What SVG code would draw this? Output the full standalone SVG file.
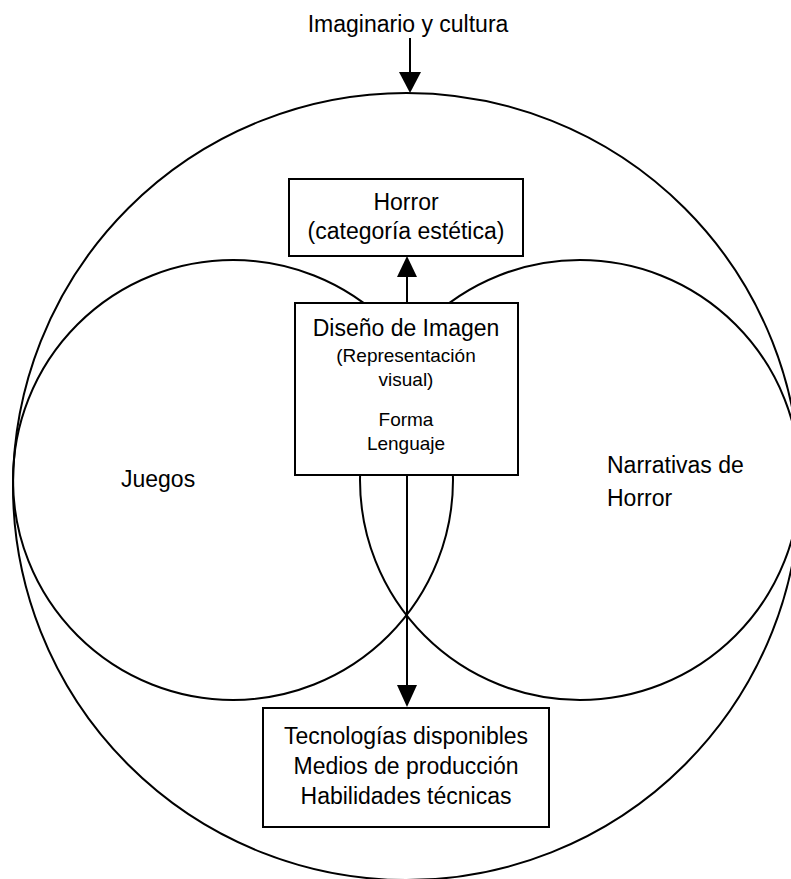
<svg xmlns="http://www.w3.org/2000/svg" width="791" height="879" viewBox="0 0 791 879">
  <style>
    .ring { fill: none; stroke: #000; stroke-width: 2; }
    .box { fill: #fff; stroke: #000; stroke-width: 2; }
    .wire { stroke: #000; stroke-width: 2; fill: none; }
    .head { fill: #000; stroke: none; }
    text { font-family: "Liberation Sans", Arial, sans-serif; fill: #000; text-anchor: middle; }
    .main { font-size: 23px; }
    .sub { font-size: 19px; }
    .side { text-anchor: start; }
  </style>
  <rect width="791" height="879" fill="#fff"/>

  <!-- outer field: imaginary and culture -->
  <g id="imaginario">
    <circle class="ring" cx="406.5" cy="486.5" r="393.5"/>
    <text class="main" x="408" y="32">Imaginario y cultura</text>
  </g>

  <!-- overlapping domains -->
  <g id="juegos">
    <circle class="ring" cx="233" cy="480" r="220"/>
    <text class="main side" x="121" y="487">Juegos</text>
  </g>
  <g id="narrativas">
    <circle class="ring" cx="580" cy="480" r="220"/>
    <text class="main side" x="607" y="473">Narrativas de</text>
    <text class="main side" x="607" y="506">Horror</text>
  </g>

  <!-- connectors -->
  <g id="connectors">
    <line class="wire" x1="410" y1="38" x2="410" y2="74"/>
    <polygon class="head" points="399,72 421,72 410,93"/>
    <line class="wire" x1="407" y1="303" x2="407" y2="275"/>
    <polygon class="head" points="397,277 417,277 407,256"/>
    <line class="wire" x1="407" y1="475" x2="407" y2="688"/>
    <polygon class="head" points="397,685 417,685 407,707"/>
  </g>

  <g id="horror">
    <rect class="box" x="289" y="179" width="234" height="77"/>
    <text class="main" x="406" y="210">Horror</text>
    <text class="main" x="406" y="239">(categoría estética)</text>
  </g>

  <g id="diseno">
    <rect class="box" x="295" y="303" width="223" height="172"/>
    <text class="main" x="406" y="336">Diseño de Imagen</text>
    <text class="sub" x="406" y="362">(Representación</text>
    <text class="sub" x="406" y="386">visual)</text>
    <text class="sub" x="406" y="426">Forma</text>
    <text class="sub" x="406" y="450">Lenguaje</text>
  </g>

  <g id="tecnologias">
    <rect class="box" x="263" y="708" width="286" height="119"/>
    <text class="main" x="406" y="744">Tecnologías disponibles</text>
    <text class="main" x="406" y="774">Medios de producción</text>
    <text class="main" x="406" y="804">Habilidades técnicas</text>
  </g>
</svg>
